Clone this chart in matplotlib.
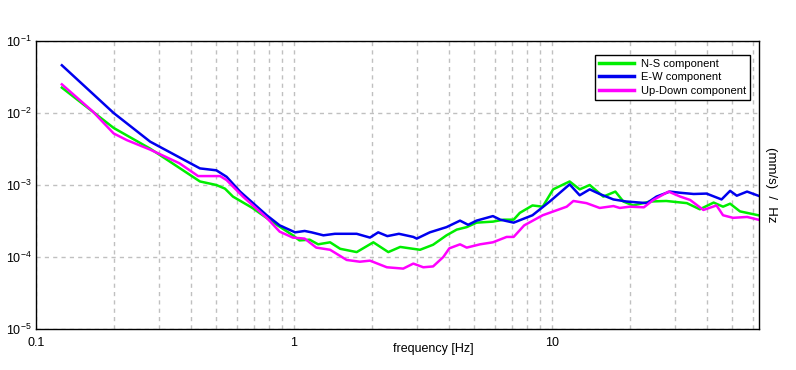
import matplotlib.pyplot as plt
from matplotlib.ticker import LogLocator, NullFormatter, FixedLocator, FixedFormatter

plt.rcParams["font.family"] = ["Liberation Sans", "DejaVu Sans"]
plt.rcParams["mathtext.fontset"] = "custom"
plt.rcParams["mathtext.rm"] = "Liberation Sans"
plt.rcParams["mathtext.it"] = "Liberation Sans"

ns_freq = [0.126, 0.2, 0.277, 0.432, 0.5, 0.54, 0.58, 0.69, 0.81, 0.99, 1.05, 1.15, 1.24,
           1.38, 1.51, 1.75, 2.03, 2.32, 2.58, 2.81, 3.08, 3.46, 3.9, 4.27, 4.67, 5.1, 5.9,
           6.5, 7.1, 7.5, 8.4, 9.2, 10.1, 11.7, 12.8, 14.0, 15.8, 17.6, 18.9, 20.6, 24.0,
           27.7, 33.3, 37.4, 42.3, 46.0, 49.0, 53.5, 63.0]
ns_psd = [2.25e-2, 6.2e-3, 3.2e-3, 1.12e-3, 1.0e-3, 8.9e-4, 6.9e-4, 4.8e-4, 3.2e-4, 2.0e-4,
          1.7e-4, 1.74e-4, 1.5e-4, 1.6e-4, 1.3e-4, 1.17e-4, 1.6e-4, 1.17e-4, 1.38e-4, 1.32e-4,
          1.26e-4, 1.48e-4, 2.0e-4, 2.4e-4, 2.6e-4, 3.0e-4, 3.1e-4, 3.3e-4, 3.3e-4, 4.1e-4,
          5.2e-4, 5.0e-4, 8.7e-4, 1.12e-3, 8.7e-4, 1.0e-3, 6.9e-4, 8.1e-4, 5.9e-4, 5.2e-4,
          5.9e-4, 6.0e-4, 5.6e-4, 4.6e-4, 5.7e-4, 5.0e-4, 5.5e-4, 4.3e-4, 3.8e-4]

ew_freq = [0.126, 0.2, 0.277, 0.432, 0.5, 0.548, 0.618, 0.784, 0.88, 1.01, 1.1, 1.17, 1.3,
           1.44, 1.75, 1.97, 2.12, 2.3, 2.55, 2.9, 2.99, 3.36, 3.9, 4.4, 4.73, 5.1, 5.9, 6.3,
           7.1, 8.4, 9.8, 11.7, 12.8, 14.0, 15.3, 17.3, 19.4, 23.3, 25.4, 28.6, 31.4, 35.4,
           39.7, 45.4, 49.0, 52.0, 57.0, 63.0]
ew_psd = [4.6e-2, 1.0e-2, 4.0e-3, 1.7e-3, 1.6e-3, 1.3e-3, 8.1e-4, 3.8e-4, 2.75e-4, 2.2e-4,
          2.3e-4, 2.2e-4, 2.0e-4, 2.1e-4, 2.1e-4, 1.86e-4, 2.2e-4, 1.95e-4, 2.1e-4, 1.9e-4,
          1.8e-4, 2.2e-4, 2.6e-4, 3.2e-4, 2.8e-4, 3.2e-4, 3.7e-4, 3.3e-4, 3.0e-4, 3.8e-4,
          5.9e-4, 1.02e-3, 7.2e-4, 8.7e-4, 7.5e-4, 6.3e-4, 5.9e-4, 5.6e-4, 6.9e-4, 8.1e-4,
          7.8e-4, 7.5e-4, 7.6e-4, 6.3e-4, 8.3e-4, 7.1e-4, 8.1e-4, 7.1e-4]

ud_freq = [0.126, 0.166, 0.2, 0.225, 0.277, 0.36, 0.425, 0.517, 0.548, 0.634, 0.784, 0.88,
           0.99, 1.1, 1.22, 1.38, 1.6, 1.8, 1.97, 2.29, 2.65, 2.9, 3.17, 3.46, 3.79, 4.0, 4.4,
           4.67, 5.26, 5.9, 6.67, 7.1, 7.8, 9.2, 11.4, 12.1, 13.6, 15.3, 17.3, 18.3, 20.0,
           22.7, 24.7, 28.3, 31.4, 34.3, 38.6, 43.4, 46.0, 50.3, 57.0, 63.0]
ud_psd = [2.5e-2, 1.05e-2, 5.2e-3, 4.2e-3, 3.1e-3, 2.0e-3, 1.33e-3, 1.33e-3, 1.17e-3, 6.9e-4,
          3.5e-4, 2.25e-4, 1.86e-4, 1.8e-4, 1.35e-4, 1.26e-4, 9.1e-5, 8.6e-5, 8.9e-5, 7.2e-5,
          6.9e-5, 8.1e-5, 7.2e-5, 7.4e-5, 1.0e-4, 1.32e-4, 1.5e-4, 1.35e-4, 1.5e-4, 1.6e-4,
          1.9e-4, 1.9e-4, 2.75e-4, 3.8e-4, 5.0e-4, 6.0e-4, 5.6e-4, 4.8e-4, 5.1e-4, 4.8e-4,
          5.0e-4, 4.9e-4, 6.2e-4, 8.1e-4, 6.9e-4, 6.2e-4, 4.5e-4, 5.2e-4, 3.8e-4, 3.5e-4,
          3.6e-4, 3.3e-4]

x_ticks = [0.1, 1, 10]
x_tick_labels = ["0.1", "1", "10"]
y_ticks = [1e-5, 1e-4, 1e-3, 1e-2, 1e-1]
y_tick_labels = [r"$10^{-5}$", r"$10^{-4}$", r"$10^{-3}$", r"$10^{-2}$", r"$10^{-1}$"]

fig = plt.figure(figsize=(7.96, 3.70), dpi=100)
ax = fig.add_axes([0.0452, 0.1108, 0.9083, 0.7784])

ax.plot(ns_freq, ns_psd, color="#00ee00", lw=1.8, label="N-S component")
ax.plot(ew_freq, ew_psd, color="#0000ee", lw=1.8, label="E-W component")
ax.plot(ud_freq, ud_psd, color="#ff00ff", lw=1.8, label="Up-Down component")

ax.set_xscale("log")
ax.set_yscale("log")
ax.set_xlim(0.1, 63.4)
ax.set_ylim(1e-5, 1e-1)

ax.xaxis.set_major_locator(FixedLocator(x_ticks))
ax.xaxis.set_major_formatter(FixedFormatter(x_tick_labels))
ax.xaxis.set_minor_locator(LogLocator(base=10, subs=range(2, 10)))
ax.xaxis.set_minor_formatter(NullFormatter())
ax.yaxis.set_major_locator(FixedLocator(y_ticks))
ax.yaxis.set_major_formatter(FixedFormatter(y_tick_labels))
ax.yaxis.set_minor_locator(FixedLocator([]))

ax.tick_params(which="both", length=0, labelsize=9)
ax.tick_params(axis="y", pad=3)
ax.tick_params(axis="x", pad=6)
grid_style = dict(color="#c0c0c0", ls=(0, (3, 3)), lw=1)
ax.grid(True, which="major", **grid_style)
ax.grid(True, which="minor", axis="x", **grid_style)
for s in ax.spines.values():
    s.set_color("black")
    s.set_linewidth(1)

ax.set_xlabel("frequency [Hz]", fontsize=9)
ax.xaxis.set_label_coords(0.549, -0.05)
ax.yaxis.set_label_position("right")
ax.set_ylabel("(mm/s)  /  Hz", fontsize=9.5, rotation=270, labelpad=13)

leg = ax.legend(loc="upper right", bbox_to_anchor=(0.9876, 0.951), borderaxespad=0,
                fontsize=8, frameon=True, fancybox=False, framealpha=1, edgecolor="black",
                handlelength=3.2, borderpad=0.35, labelspacing=0.3, handletextpad=0.6)
leg.get_frame().set_linewidth(1)
for line in leg.get_lines():
    line.set_linewidth(2.5)

fig.savefig("out.png", dpi=100)
